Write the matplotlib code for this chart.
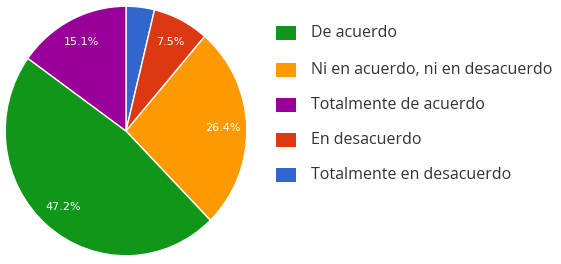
import matplotlib.pyplot as plt
from matplotlib.patches import Rectangle

# datos (orden de los sectores, en sentido horario desde arriba)
categorias = ['Totalmente en desacuerdo', 'En desacuerdo', 'Ni en acuerdo, ni en desacuerdo',
              'De acuerdo', 'Totalmente de acuerdo']
valores = [3.8, 7.5, 26.4, 47.2, 15.1]
colores = ['#3366CC', '#DC3912', '#FF9900', '#109618', '#990099']

# orden de la leyenda
orden_leyenda = ['De acuerdo', 'Ni en acuerdo, ni en desacuerdo', 'Totalmente de acuerdo',
                 'En desacuerdo', 'Totalmente en desacuerdo']

fig = plt.figure(figsize=(5.61, 2.64), dpi=100)
ax = fig.add_axes([4 / 561, 7 / 264, 244 / 561, 252 / 264])

def etiqueta(p):
    return f'{p:.1f}%' if p > 5 else ''

wedges, textos, autotextos = ax.pie(valores, colors=colores, startangle=90, counterclock=False,
                                    autopct=etiqueta, pctdistance=0.8,
                                    wedgeprops=dict(edgecolor='white', linewidth=1),
                                    textprops=dict(color='white', fontsize=8, family='DejaVu Sans'))
ax.set_xlim(-1.01, 1.01)
ax.set_ylim(-1.01, 1.01)
ax.set_aspect('auto')

# leyenda manual
filas_y = [33, 70, 105, 140, 175]
for nombre, y in zip(orden_leyenda, filas_y):
    c = colores[categorias.index(nombre)]
    fig.patches.append(Rectangle((276 / 561, 1 - (y + 7) / 264), 20 / 561, 14 / 264,
                                 transform=fig.transFigure, facecolor=c, edgecolor='none'))
    fig.text(311 / 561, 1 - y / 264, nombre, fontsize=11.5, color='#333333',
             va='center', ha='left', family='Open Sans')

fig.savefig('out.png', dpi=100)
